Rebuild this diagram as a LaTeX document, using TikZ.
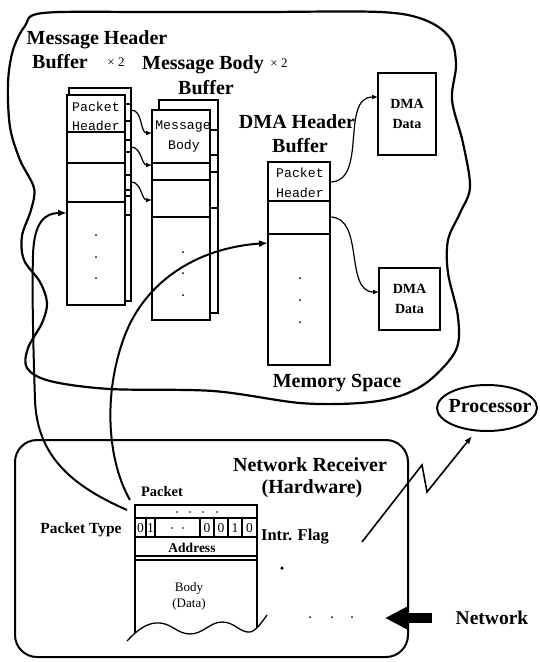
\documentclass[tikz,border=0pt]{standalone}
\usepackage{fontspec}
\setmainfont{Liberation Serif}
\setmonofont{Liberation Mono}
\usetikzlibrary{arrows.meta,shapes.geometric}
\begin{document}
\begin{tikzpicture}[x=1pt,y=-1pt,
  big/.style={font=\bfseries\fontsize{20}{22}\selectfont, inner sep=0pt},
  mid/.style={font=\bfseries\fontsize{15}{17}\selectfont, inner sep=0pt},
  small/.style={font=\fontsize{13}{15}\selectfont, inner sep=0pt},
  mono/.style={font=\ttfamily\fontsize{13.2}{15}\selectfont, inner sep=0pt, anchor=base},
  dmabox/.style={font=\bfseries\fontsize{14}{20}\selectfont, draw, line width=1.3pt, align=center, inner sep=0pt},
  page/.style={draw, line width=1.3pt, fill=white},
  rowline/.style={line width=1.1pt},
  arr/.style={line width=1.2pt, -{Latex[length=6pt,width=5pt]}},
  bigarr/.style={line width=2pt, -{Latex[length=9pt,width=7pt]}},
  dot/.style={circle, fill, inner sep=0pt, minimum size=2pt},
]
\useasboundingbox (0,0) rectangle (539,662);

% ---------------- Memory space blob
\draw[line width=2.2pt] plot[smooth cycle, tension=0.55] coordinates {
 (43,13) (150,12) (260,12) (380,12) (425,20) (450,38) (456,65) (452,100)
 (463,143) (470,187) (460,213) (448,240) (448,273) (458,317) (456,350)
 (430,380) (400,396) (360,403) (300,403) (213,391) (110,389) (50,381)
 (27,368) (28,348) (42,323) (47,303) (40,282) (24,260) (22,236) (31,210)
 (34,188) (20,160) (10,127) (8,83) (13,50) (25,26)};

% ---------------- labels in memory
\node[big] (mhl) at (97,40) {Message Header};
\node[big] (mhb) at (60,62) {Buffer};
\node[small] (x1) at (116,62) {× 2};
\node[big] (mbl) at (203,65) {Message Body};
\node[small] (x2) at (279,63) {× 2};
\node[big] (mbb) at (206,88) {Buffer};
\node[big] (dhl) at (297,122) {DMA Header};
\node[big] (dhb) at (300,146) {Buffer};
\node[big] (msl) at (337,383) {Memory Space};

% ---------------- Message header buffer
\draw[page] (69,88) rectangle (131,301);
\foreach \yy in {104,121,140,152,175,190,196,215} \draw[rowline] (125,\yy) -- (131,\yy);
\draw[page] (67,95) rectangle (125,305);
\foreach \yy in {132,163,202} \draw[rowline] (67,\yy) -- (125,\yy);
\node[mono] (mhp) at (96,111) {Packet};
\node[mono] (mhh) at (96,130.5) {Header};
\foreach \yy in {235,257,278} \node[dot] at (96,\yy) {};
\coordinate (mhin) at (67,213);

% ---------------- Message body buffer
\draw[page] (159,100) rectangle (218,313);
\foreach \yy in {130,155,172,208} \draw[rowline] (210,\yy) -- (218,\yy);
\draw[page] (152,110) rectangle (210,320);
\foreach \yy in {163,180,217} \draw[rowline] (152,\yy) -- (210,\yy);
\node[mono] (mbm) at (183,129) {Message};
\node[mono] (mbd) at (184,149) {Body};
\foreach \yy in {252,273,295} \node[dot] at (183,\yy) {};

% header -> body arrows
\coordinate (ha1) at (131,110); \coordinate (hb1) at (152,133);
\coordinate (ha2) at (131,147); \coordinate (hb2) at (152,165);
\coordinate (ha3) at (131,182); \coordinate (hb3) at (152,200);
\draw[arr] (ha1) to[out=0,in=180] (hb1);
\draw[arr] (ha2) to[out=0,in=180] (hb2);
\draw[arr] (ha3) to[out=0,in=180] (hb3);

% ---------------- DMA header buffer
\draw[page] (268,162) rectangle (330,365);
\foreach \yy in {201,234} \draw[rowline] (268,\yy) -- (330,\yy);
\node[mono] (dhp) at (300,177) {Packet};
\node[mono] (dhh) at (300,197) {Header};
\foreach \yy in {278,300,322} \node[dot] at (300,\yy) {};
\coordinate (dhin) at (268,243);
\coordinate (dh1) at (330,182);
\coordinate (dh2) at (330,217);

% DMA data boxes
\node[dmabox, minimum width=58pt, minimum height=82pt] (dma1) at (407,114) {DMA\\Data};
\node[dmabox, minimum width=61pt, minimum height=62pt] (dma2) at (409.5,299) {DMA\\Data};
\coordinate (d1in) at (378,97);
\coordinate (d2in) at (379,292);
\draw[arr] (dh1) to[out=0,in=180] (d1in);
\draw[arr] (dh2) to[out=0,in=180] (d2in);

% ---------------- Network receiver
\draw[line width=2pt, rounded corners=22pt] (15,440) rectangle (408,657);
\node[big] (nrl) at (310,465) {Network Receiver};
\node[big] (nrh) at (312,489) {(Hardware)};
\node[mid, font=\bfseries\fontsize{14.5}{17}\selectfont] (pkl) at (162,492) {Packet};
\node[mid, font=\bfseries\fontsize{15.5}{17}\selectfont] (ptl) at (81,530) {Packet Type};
\node[mid, font=\bfseries\fontsize{16.5}{17}\selectfont] (ifl) at (295,537) {Intr. Flag};

% packet
\draw[line width=1.3pt] (135,633) -- (135,505) -- (257,505) -- (257,628);
\foreach \yy in {518,537,556,560} \draw[rowline] (135,\yy) -- (257,\yy);
\foreach \xx in {146,155,200,214,228,242} \draw[rowline] (\xx,518) -- (\xx,537);
\foreach \xx in {177,190,203,217} \node[dot, minimum size=1.6pt] at (\xx,512) {};
\foreach \xx/\bb in {140.5/0,150.5/1,207/0,221/0,235/1,249.5/0}
  \node[small, font=\fontsize{13.5}{15}\selectfont] at (\xx,528) {\bb};
\foreach \xx in {172,183} \node[dot, minimum size=1.6pt] at (\xx,528) {};
\node[mid, font=\bfseries\fontsize{13.5}{15}\selectfont] (adr) at (192,548) {Address};
\node[small, font=\fontsize{13}{15}\selectfont] (bdy) at (189,588) {Body};
\node[small, font=\fontsize{13}{15}\selectfont] (bdd) at (189,604) {(Data)};
\draw[line width=1.3pt] (127,641) .. controls (140,627) and (150,622) .. (160,623)
  .. controls (172,624) and (178,634) .. (190,634)
  .. controls (203,634) and (210,622) .. (222,622)
  .. controls (235,622) and (240,633) .. (250,632)
  .. controls (256,631) and (262,622) .. (267,615);
\coordinate (pk1) at (127,510);
\coordinate (pk2) at (130,500);

% intr flag dot, network dots
\node[dot, minimum size=3.5pt] (iflag) at (282,568) {};
\foreach \xx in {310,332,352} \node[dot, minimum size=2pt] at (\xx,617) {};

% big arrows from packet to buffers
\draw[bigarr] (pk1) .. controls (70,485) and (37,455) .. (35,400)
  .. controls (33,340) and (32,290) .. (33,255)
  .. controls (34,222) and (45,213) .. (mhin);
\draw[bigarr] (pk2) .. controls (108,462) and (102,395) .. (125,335)
  .. controls (145,283) and (195,248) .. (dhin);

% processor
\node[draw, ellipse, line width=2pt, minimum width=100pt, minimum height=46pt, inner sep=0pt] (proc) at (487,408) {};
\node[big] (procl) at (490,406) {Processor};
\coordinate (lz0) at (362,542);
\coordinate (ptip) at (472,436);
\draw[line width=1.6pt, -{Latex[length=8pt,width=6pt]}] (lz0) -- (422,465) -- (427,492) -- (ptip);

% network
\node[big, font=\bfseries\fontsize{19.5}{22}\selectfont] (net) at (492,618) {Network};
\coordinate (nstart) at (432,618);
\coordinate (ntip) at (385,618);
\draw[line width=10pt, -{Triangle[length=23pt,width=22pt]}] (nstart) -- (ntip);
\end{tikzpicture}
\end{document}
